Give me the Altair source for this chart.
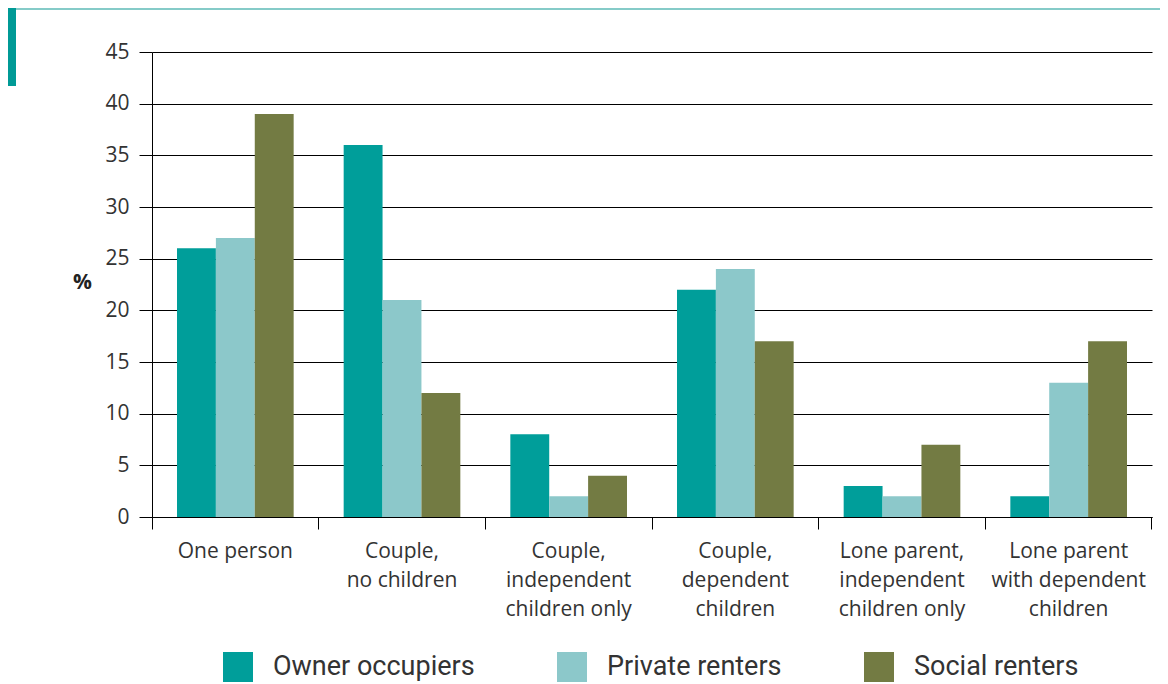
import altair as alt
import pandas as pd

categories = [
    "One person",
    "Couple,\nno children",
    "Couple,\nindependent\nchildren only",
    "Couple,\ndependent\nchildren",
    "Lone parent,\nindependent\nchildren only",
    "Lone parent\nwith dependent\nchildren",
]
series = ["Owner occupiers", "Private renters", "Social renters"]
owner = [26, 36, 8, 22, 3, 2]
private = [27, 21, 2, 24, 2, 13]
social = [39, 12, 4, 17, 7, 17]
y_ticks = [0, 5, 10, 15, 20, 25, 30, 35, 40, 45]
colors = ["#009e9a", "#8cc8ca", "#737b43"]

rows = []
for i, c in enumerate(categories):
    for s, vals in zip(series, [owner, private, social]):
        rows.append({"category": c, "series": s, "value": vals[i]})
df = pd.DataFrame(rows)

FONT = "Open Sans"

bars = alt.Chart(df).mark_bar().encode(
    x=alt.X(
        "category:N",
        sort=categories,
        scale=alt.Scale(paddingInner=0, paddingOuter=0),
        axis=alt.Axis(
            title=None,
            labelAngle=0,
            labelExpr="split(datum.label, '\\n')",
            bandPosition=1,
            tickExtra=True,
            tickSize=12,
            tickColor="black",
            domainColor="black",
            labelFontSize=21,
            labelColor="#333333",
            labelLineHeight=29,
            labelPadding=11,
            labelFont=FONT,
            labelLimit=300,
            grid=False,
        ),
    ),
    xOffset=alt.XOffset(
        "series:N", sort=series, scale=alt.Scale(paddingInner=0, paddingOuter=0.643)
    ),
    y=alt.Y(
        "value:Q",
        scale=alt.Scale(domain=[0, 45], nice=False),
        axis=alt.Axis(
            values=y_ticks,
            title="%",
            titleAngle=0,
            titleX=-70,
            titleY=230,
            titleAlign="center",
            titleBaseline="middle",
            titleFontSize=21,
            titleFontWeight="bold",
            titleFont=FONT,
            titleColor="#222222",
            tickSize=13,
            tickColor="black",
            domainColor="black",
            gridColor="black",
            gridOpacity=1,
            labelFontSize=21,
            labelFont=FONT,
            labelColor="#333333",
            labelPadding=10,
        ),
    ),
    color=alt.Color(
        "series:N",
        sort=series,
        scale=alt.Scale(domain=series, range=colors),
        legend=alt.Legend(
            title=None,
            orient="none",
            legendX=71,
            legendY=600,
            direction="horizontal",
            symbolType="square",
            symbolSize=900,
            symbolStrokeWidth=0,
            symbolOpacity=1,
            labelFontSize=27,
            labelFont="Roboto",
            labelColor="#333333",
            labelOffset=20,
            labelLimit=400,
            columnPadding=82,
            padding=0,
        ),
    ),
)

deco = pd.DataFrame({"k": [0]})
top_line = alt.Chart(deco).mark_rule(color="#5cbab6", strokeWidth=1.5).encode(
    x=alt.value(-144), x2=alt.value(1016), y=alt.value(-43)
)
side_bar = alt.Chart(deco).mark_rule(color="#009a96", strokeWidth=8).encode(
    x=alt.value(-140), y=alt.value(-44), y2=alt.value(34)
)

chart = (
    alt.layer(bars, top_line, side_bar)
    .properties(
        width=1000,
        height=465,
        autosize=alt.AutoSizeParams(type="none"),
        padding={"left": 144, "top": 44, "right": 8, "bottom": 167},
    )
    .configure_view(stroke=None)
)

chart.save("out.html", embed_options={"renderer": "svg", "actions": False})
